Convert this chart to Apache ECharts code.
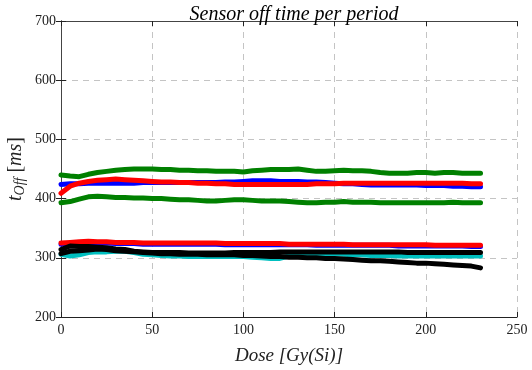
<!DOCTYPE html>
<html>
<head>
<meta charset="utf-8">
<script src="https://cdn.jsdelivr.net/npm/echarts@6/dist/echarts.min.js"></script>
<style>html,body{margin:0;padding:0;background:#fff}#c{width:532px;height:370px}</style>
</head>
<body>
<div id="c"></div>
<script>
const dose = [0,5,10,15,20,25,30,35,40,45,50,55,60,65,70,75,80,85,90,95,100,105,110,115,120,125,130,135,140,145,150,155,160,165,170,175,180,185,190,195,200,205,210,215,220,225,230];

const greenUpper = [440,438,437,441,444,446,448,449,450,450,450,449,449,448,448,447,447,446,446,446,445,447,448,449,449,449,450,448,446,446,447,448,447,447,446,444,443,443,443,444,444,443,444,444,443,443,443];
const greenLower = [393,395,399,403,404,403,402,402,401,401,400,400,399,398,398,397,396,396,397,398,398,397,396,396,396,395,394,393,393,394,394,395,394,394,394,393,393,393,393,393,393,393,393,394,393,393,393];
const blueUpper = [424,425,425,426,426,426,426,426,426,427,427,427,427,427,427,427,427,427,428,428,429,430,430,430,429,429,429,428,428,427,426,425,425,424,423,423,423,423,423,423,422,422,422,421,421,420,420];
const redUpper = [409,421,426,429,431,432,433,432,431,430,429,428,428,427,427,426,426,425,425,424,424,424,424,424,424,424,424,424,425,425,425,426,426,426,426,426,426,426,426,426,426,426,426,426,426,425,425];
const blueLower = [323,323,324,325,325,325,324,324,324,323,323,323,323,323,323,323,323,323,322,322,322,322,322,322,322,322,322,322,321,321,321,321,321,321,321,321,321,320,320,320,320,320,320,320,320,319,319];
const redLower = [325,326,327,328,327,327,326,326,326,325,325,325,325,325,325,325,325,325,324,324,324,324,324,324,324,323,323,323,323,323,323,323,322,322,322,322,322,322,322,322,322,321,321,321,321,321,321];
const cyan = [306,303,305,309,310,310,311,311,309,306,305,304,303,303,302,302,302,302,302,302,302,301,300,299,299,303,305,306,307,307,307,306,305,305,304,304,304,303,303,303,303,303,303,303,303,303,303];
const blackA = [314,320,319,319,318,317,315,314,311,310,309,309,309,309,308,308,308,308,308,309,309,309,309,309,310,310,310,310,310,310,310,310,310,310,310,310,310,310,309,309,309,309,309,309,309,309,309];
const blackB = [307,311,312,313,315,314,312,311,310,309,308,307,307,306,306,306,305,305,305,305,304,304,303,302,302,301,301,300,300,299,299,298,297,296,295,295,294,293,292,291,291,290,289,288,287,286,283];

const xTicks = [0,50,100,150,200,250];
const yTicks = [200,300,400,500,600,700];

function pairs(v){ return dose.map((d,i)=>[d,v[i]]); }

const seriesDefs = [
  {data: greenUpper, color:'#008000'},
  {data: greenLower, color:'#008000'},
  {data: blueUpper, color:'#0000ff'},
  {data: redUpper, color:'#ff0000'},
  {data: blueLower, color:'#0000ff'},
  {data: redLower, color:'#ff0000'},
  {data: cyan, color:'#00bfbf'},
  {data: blackB, color:'#000000'},
  {data: blackA, color:'#000000'}
];

const serif = '"Liberation Serif", "DejaVu Serif", serif';
const chart = echarts.init(document.getElementById('c'), null, {renderer:'canvas'});
const gridLine = {show:true, lineStyle:{color:'#c4c4c4', type:[6,5], width:1}};
chart.setOption({
  animation:false,
  title:{text:'Sensor off time per period', left:289, top:0, textAlign:'center',
    textStyle:{fontFamily:serif, fontStyle:'italic', fontWeight:'normal', fontSize:20, color:'#000'}},
  grid:{left:61, right:15, top:21, bottom:53, containLabel:false, outerBoundsMode:'none'},
  xAxis:[{
    type:'value', min:xTicks[0], max:xTicks[xTicks.length-1], interval:50,
    name:'Dose [Gy(Si)]', nameLocation:'middle', nameGap:29, nameMoveOverlap:false,
    nameTextStyle:{fontFamily:serif, fontStyle:'italic', fontSize:19, color:'#222'},
    axisLine:{show:true, lineStyle:{color:'#222', width:1}},
    axisTick:{show:true, inside:true, length:5, lineStyle:{color:'#222'}},
    axisLabel:{fontFamily:serif, fontSize:14, color:'#222', margin:6},
    splitLine:gridLine
  },{
    type:'value', position:'top', min:xTicks[0], max:xTicks[xTicks.length-1], interval:50,
    axisLine:{show:true, lineStyle:{color:'#444', width:1}},
    axisTick:{show:true, inside:true, length:5, lineStyle:{color:'#222'}},
    axisLabel:{show:false}, splitLine:{show:false}
  }],
  yAxis:[{
    type:'value', min:yTicks[0], max:yTicks[yTicks.length-1], interval:100,
    name:'{t|t}{s|Off}{n| [}{t|ms}{n|]}', nameLocation:'middle', nameGap:34, nameRotate:90, nameMoveOverlap:false,
    nameTextStyle:{color:'#222', rich:{
      t:{fontFamily:serif, fontStyle:'italic', fontSize:20, color:'#222'},
      s:{fontFamily:serif, fontStyle:'italic', fontSize:14, color:'#222', padding:[8,0,0,0]},
      n:{fontFamily:serif, fontSize:20, color:'#222'}
    }},
    axisLine:{show:true, lineStyle:{color:'#222', width:1}},
    axisTick:{show:true, inside:true, length:5, lineStyle:{color:'#222'}},
    axisLabel:{fontFamily:serif, fontSize:14, color:'#222', margin:5},
    splitLine:gridLine
  },{
    type:'value', position:'right', min:yTicks[0], max:yTicks[yTicks.length-1], interval:100,
    axisLine:{show:true, lineStyle:{color:'#444', width:1}},
    axisTick:{show:true, inside:true, length:5, lineStyle:{color:'#222'}},
    axisLabel:{show:false}, splitLine:{show:false}
  }],
  series: seriesDefs.map(s=>({
    type:'line', data:pairs(s.data), showSymbol:false, smooth:false,
    lineStyle:{color:s.color, width:5, cap:'round', join:'round'},
    itemStyle:{color:s.color}, z:2
  }))
});
</script>
</body>
</html>
